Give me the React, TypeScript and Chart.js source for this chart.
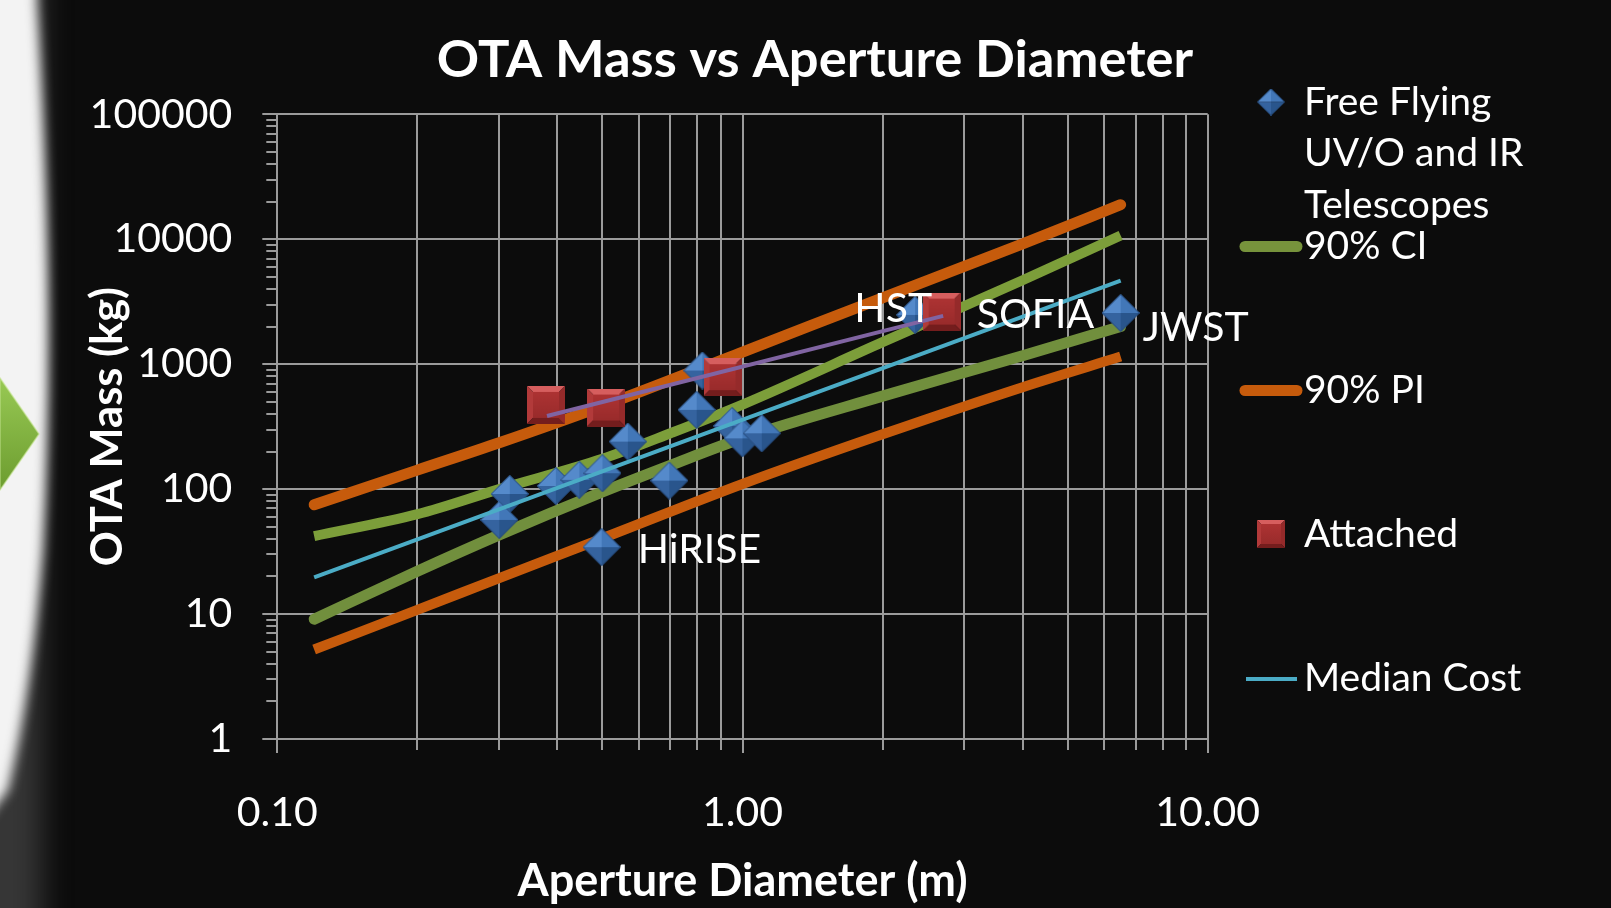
import React, { useEffect, useRef } from 'react';
import { Chart, registerables } from 'chart.js';

Chart.register(...registerables);

const FONT = 'Lato, "Open Sans", "DejaVu Sans", sans-serif';

const TITLE = 'OTA Mass vs Aperture Diameter';
const X_TITLE = 'Aperture Diameter (m)';
const Y_TITLE = 'OTA Mass (kg)';
const X_TICK_LABELS = ['0.10', '1.00', '10.00'];
const Y_TICK_LABELS = ['1', '10', '100', '1000', '10000', '100000'];
const X_TICKS = [0.1, 0.2, 0.3, 0.4, 0.5, 0.6, 0.7, 0.8, 0.9, 1, 2, 3, 4, 5, 6, 7, 8, 9, 10];
const Y_TICKS = [
  1, 2, 3, 4, 5, 6, 7, 8, 9,
  10, 20, 30, 40, 50, 60, 70, 80, 90,
  100, 200, 300, 400, 500, 600, 700, 800, 900,
  1000, 2000, 3000, 4000, 5000, 6000, 7000, 8000, 9000,
  10000, 20000, 30000, 40000, 50000, 60000, 70000, 80000, 90000,
  100000,
];

// Free flying UV/O and IR telescopes (aperture m, mass kg)
const FREE_X = [0.316, 0.3, 0.397, 0.446, 0.5, 0.567, 0.696, 0.498, 0.797, 0.82, 0.95, 1.0, 1.1, 2.35, 6.5];
const FREE_Y = [91.5, 56.7, 106, 118.6, 134, 240, 117, 34.3, 431, 890, 320, 255, 280, 2480, 2570];
const FREE_NAMES = ['', '', '', '', '', '', '', 'HiRISE', '', '', '', '', '', 'HST', 'JWST'];

// Attached telescopes
const ATT_X = [0.378, 0.509, 0.906, 2.68];
const ATT_Y = [472, 450, 787, 2636];
const ATT_NAMES = ['', '', '', 'SOFIA'];

// Attached trend line
const ATT_FIT_X = [0.38, 2.7];
const ATT_FIT_Y = [385, 2437];

// Median cost line
const MED_X = [0.12, 6.5];
const MED_Y = [19.7, 4670];

// 90% confidence interval
const CI_X = [0.12, 0.2, 0.3, 0.5, 0.7, 1, 2, 4, 6.5];
const CI_HI = [42, 63, 100, 175, 280, 475, 1500, 4700, 10700];
const CI_LO = [9.1, 22, 43, 95, 155, 255, 555, 1170, 2000];

// 90% prediction interval
const PI_X = [0.12, 0.2, 0.3, 0.5, 1, 2, 4, 6.5];
const PI_HI = [75, 142, 235, 462, 1250, 3400, 9190, 18900];
const PI_LO = [5.2, 10.8, 19.4, 40.4, 110, 275, 655, 1150];

const LEGEND_LABELS = [['Free Flying', 'UV/O and IR', 'Telescopes'], ['90% CI'], ['90% PI'], ['Attached'], ['Median Cost']];

const GRID = '#9b9b9b';
const ORANGE = '#c65b0c';
const GREEN_HI = '#7c9e3a';
const GREEN_LO = '#718f3d';
const CYAN = '#4bacc6';
const PURPLE = '#8064a2';

const pts = (xs: number[], ys: number[]) => xs.map((x, i) => ({ x, y: ys[i] }));
const isDecade = (v: number) => v > 0 && Math.abs(Math.log10(v) - Math.round(Math.log10(v))) < 1e-9;

function makeDiamond(w: number, h: number) {
  const c = document.createElement('canvas');
  c.width = w;
  c.height = h;
  const g = c.getContext('2d')!;
  const cx = w / 2;
  const cy = h / 2;
  const facets: [number, number, number, number, string][] = [
    [0, cy, cx, 0, '#558acb'],
    [cx, 0, w, cy, '#4277b8'],
    [w, cy, cx, h, '#29558c'],
    [cx, h, 0, cy, '#35639f'],
  ];
  for (const [ax, ay, bx, by, col] of facets) {
    g.beginPath();
    g.moveTo(cx, cy);
    g.lineTo(ax, ay);
    g.lineTo(bx, by);
    g.closePath();
    g.fillStyle = col;
    g.fill();
  }
  g.beginPath();
  g.moveTo(0.5, cy);
  g.lineTo(cx, 0.5);
  g.lineTo(w - 0.5, cy);
  g.lineTo(cx, h - 0.5);
  g.closePath();
  g.strokeStyle = '#264b7a';
  g.lineWidth = 1;
  g.stroke();
  return c;
}

function makeSquare(s: number) {
  const c = document.createElement('canvas');
  c.width = s;
  c.height = s;
  const g = c.getContext('2d')!;
  const b = Math.round(s * 0.16);
  const poly = (p: number[][], col: string) => {
    g.beginPath();
    g.moveTo(p[0][0], p[0][1]);
    for (let i = 1; i < p.length; i++) g.lineTo(p[i][0], p[i][1]);
    g.closePath();
    g.fillStyle = col;
    g.fill();
  };
  poly([[0, 0], [s, 0], [s - b, b], [b, b]], '#d65e5e');
  poly([[0, 0], [b, b], [b, s - b], [0, s]], '#b23a3a');
  poly([[s, 0], [s, s], [s - b, s - b], [s - b, b]], '#952a2a');
  poly([[0, s], [b, s - b], [s - b, s - b], [s, s]], '#741d1d');
  const gr = g.createLinearGradient(0, b, 0, s - b);
  gr.addColorStop(0, '#ad3333');
  gr.addColorStop(1, '#992b2b');
  g.fillStyle = gr;
  g.fillRect(b, b, s - 2 * b, s - 2 * b);
  return c;
}

export default function App() {
  const ref = useRef<HTMLCanvasElement>(null);

  useEffect(() => {
    const canvas = ref.current;
    if (!canvas) return;
    const diamond = makeDiamond(38, 38);
    const square = makeSquare(38);
    const legDiamond = makeDiamond(28, 27);
    const legSquare = makeSquare(28);

    const bgPlugin = {
      id: 'bgDeco',
      beforeDraw(chart: any) {
        const ctx = chart.ctx as CanvasRenderingContext2D;
        ctx.save();
        ctx.fillStyle = '#0c0c0c';
        ctx.fillRect(0, 0, chart.width, chart.height);
        // soft grey glow near the left edge
        ctx.filter = 'blur(14px)';
        ctx.fillStyle = '#363636';
        ctx.fillRect(-30, -30, 72, 980);
        // white slide edge
        ctx.filter = 'blur(6px)';
        ctx.fillStyle = '#f3f3f3';
        ctx.beginPath();
        ctx.moveTo(-30, -30);
        ctx.lineTo(38, -30);
        ctx.lineTo(37, 0);
        ctx.quadraticCurveTo(46, 150, 48, 280);
        ctx.quadraticCurveTo(50, 420, 43, 550);
        ctx.quadraticCurveTo(32, 690, 8, 790);
        ctx.lineTo(-30, 840);
        ctx.closePath();
        ctx.fill();
        ctx.filter = 'none';
        // green arrow
        const gr = ctx.createLinearGradient(0, 378, 0, 490);
        gr.addColorStop(0, '#98c954');
        gr.addColorStop(1, '#6c9c2f');
        ctx.fillStyle = gr;
        ctx.beginPath();
        ctx.moveTo(0, 378);
        ctx.lineTo(39, 434);
        ctx.lineTo(0, 490);
        ctx.closePath();
        ctx.fill();
        ctx.strokeStyle = 'rgba(200,230,150,0.6)';
        ctx.lineWidth = 1.5;
        ctx.stroke();
        ctx.restore();
      },
    };

    const ticksPlugin = {
      id: 'tickMarks',
      afterDraw(chart: any) {
        const ctx = chart.ctx as CanvasRenderingContext2D;
        const xs = chart.scales.x;
        const ys = chart.scales.y;
        const area = chart.chartArea;
        ctx.save();
        ctx.strokeStyle = GRID;
        ctx.lineWidth = 2;
        ctx.beginPath();
        for (const t of xs.ticks) {
          const px = Math.round(xs.getPixelForValue(t.value));
          const len = isDecade(t.value) ? 14 : 11;
          ctx.moveTo(px, area.bottom);
          ctx.lineTo(px, area.bottom + len);
        }
        for (const t of ys.ticks) {
          const py = Math.round(ys.getPixelForValue(t.value));
          const len = isDecade(t.value) ? 15 : 11;
          ctx.moveTo(area.left, py);
          ctx.lineTo(area.left - len, py);
        }
        ctx.stroke();
        ctx.restore();
      },
    };

    const textPlugin = {
      id: 'texts',
      afterDraw(chart: any) {
        const ctx = chart.ctx as CanvasRenderingContext2D;
        ctx.save();
        ctx.fillStyle = '#ffffff';
        ctx.textBaseline = 'middle';
        // title
        ctx.font = `bold 52.5px ${FONT}`;
        ctx.textAlign = 'center';
        ctx.fillText(TITLE, 815, 60);

        // point labels
        ctx.font = `41px ${FONT}`;
        const free = chart.getDatasetMeta(0).data;
        FREE_NAMES.forEach((name, i) => {
          if (!name) return;
          const p = free[i];
          if (name === 'HST') {
            ctx.textAlign = 'right';
            ctx.fillText(name, p.x + 17, p.y - 6);
          } else if (name === 'JWST') {
            ctx.textAlign = 'left';
            ctx.fillText(name, p.x + 22, p.y + 15);
          } else {
            ctx.textAlign = 'left';
            ctx.fillText(name, p.x + 36, p.y + 3);
          }
        });
        const att = chart.getDatasetMeta(5).data;
        ATT_NAMES.forEach((name, i) => {
          if (!name) return;
          const p = att[i];
          ctx.textAlign = 'left';
          ctx.fillText(name, p.x + 35, p.y + 3);
        });

        // legend
        const legendY = [102, 246, 390, 534, 678];
        ctx.font = `39px ${FONT}`;
        ctx.textAlign = 'left';
        LEGEND_LABELS.forEach((lines, i) => {
          const y = legendY[i];
          lines.forEach((ln, j) => ctx.fillText(ln, 1304, y + j * 51.5));
        });
        ctx.drawImage(legDiamond, 1271 - 14, 102 - 13.5);
        ctx.drawImage(legSquare, 1271 - 14, 534 - 14);
        ctx.lineCap = 'round';
        ctx.lineWidth = 11;
        ctx.strokeStyle = '#77933c';
        ctx.beginPath();
        ctx.moveTo(1245, 246.5);
        ctx.lineTo(1297, 246.5);
        ctx.stroke();
        ctx.strokeStyle = ORANGE;
        ctx.beginPath();
        ctx.moveTo(1245, 390.5);
        ctx.lineTo(1297, 390.5);
        ctx.stroke();
        ctx.lineCap = 'butt';
        ctx.lineWidth = 4;
        ctx.strokeStyle = CYAN;
        ctx.beginPath();
        ctx.moveTo(1246, 679);
        ctx.lineTo(1297, 679);
        ctx.stroke();
        ctx.restore();
      },
    };

    const lineDs = (label: string, data: any[], color: string, width: number, order: number, cap: CanvasLineCap, curved: boolean) => ({
      type: 'scatter' as const,
      label,
      data,
      showLine: true,
      borderColor: color,
      backgroundColor: color,
      borderWidth: width,
      borderCapStyle: cap,
      borderJoinStyle: 'round' as const,
      pointRadius: 0,
      pointHoverRadius: 0,
      cubicInterpolationMode: curved ? ('monotone' as const) : ('default' as const),
      order,
    });

    const chart = new Chart(canvas, {
      type: 'scatter',
      data: {
        datasets: [
          {
            label: 'Free Flying UV/O and IR Telescopes',
            data: pts(FREE_X, FREE_Y),
            pointStyle: diamond,
            pointRadius: 19,
            pointHoverRadius: 19,
            showLine: false,
            order: 5,
          } as any,
          lineDs('90% CI', pts(CI_X, CI_HI), GREEN_HI, 10, 8, 'butt', true),
          lineDs('90% CI', pts(CI_X, CI_LO), GREEN_LO, 11, 8, 'round', true),
          lineDs('90% PI', pts(PI_X, PI_HI), ORANGE, 11, 9, 'round', true),
          lineDs('90% PI', pts(PI_X, PI_LO), ORANGE, 10, 9, 'butt', true),
          {
            label: 'Attached',
            data: pts(ATT_X, ATT_Y),
            pointStyle: square,
            pointRadius: 19,
            pointHoverRadius: 19,
            showLine: false,
            order: 4,
          } as any,
          lineDs('Attached fit', pts(ATT_FIT_X, ATT_FIT_Y), PURPLE, 4, 1, 'butt', false),
          lineDs('Median Cost', pts(MED_X, MED_Y), CYAN, 4, 2, 'butt', false),
        ],
      },
      options: {
        animation: false,
        responsive: false,
        events: [],
        layout: { padding: { left: 0, top: 114.3, right: 403.3, bottom: 0 } },
        plugins: {
          legend: { display: false },
          tooltip: { enabled: false },
          title: { display: false },
        },
        scales: {
          x: {
            type: 'logarithmic',
            position: 'bottom',
            min: 0.1,
            max: 10,
            afterBuildTicks: (s: any) => {
              s.ticks = X_TICKS.map((v) => ({ value: v, major: false }));
            },
            afterFit: (s: any) => {
              s.height = 169;
            },
            grid: { color: GRID, lineWidth: 2, drawTicks: false },
            border: { display: true, color: GRID, width: 2 },
            ticks: {
              autoSkip: false,
              maxRotation: 0,
              minRotation: 0,
              padding: 49,
              color: '#ffffff',
              font: { family: FONT, size: 41 },
              callback: (v: any) => (isDecade(Number(v)) ? X_TICK_LABELS[Math.round(Math.log10(Number(v))) + 1] : ''),
            },
            title: {
              display: true,
              text: X_TITLE,
              color: '#ffffff',
              font: { family: FONT, size: 45, weight: 'bold' },
              padding: { top: 0, bottom: 0 },
            },
          },
          y: {
            type: 'logarithmic',
            position: 'left',
            min: 1,
            max: 100000,
            afterBuildTicks: (s: any) => {
              s.ticks = Y_TICKS.map((v) => ({ value: v, major: false }));
            },
            afterFit: (s: any) => {
              s.width = 277.3;
            },
            grid: {
              color: (c: any) => (c.tick && isDecade(c.tick.value) ? GRID : 'rgba(0,0,0,0)'),
              lineWidth: 2,
              drawTicks: false,
            },
            border: { display: true, color: GRID, width: 2 },
            ticks: {
              autoSkip: false,
              padding: 45,
              color: '#ffffff',
              font: { family: FONT, size: 41 },
              callback: (v: any) => (isDecade(Number(v)) ? Y_TICK_LABELS[Math.round(Math.log10(Number(v)))] : ''),
            },
            title: {
              display: true,
              text: Y_TITLE,
              color: '#ffffff',
              font: { family: FONT, size: 43.5, weight: 'bold' },
              padding: { top: 82, bottom: 0 },
            },
          },
        },
      } as any,
      plugins: [bgPlugin, ticksPlugin, textPlugin],
    });

    return () => chart.destroy();
  }, []);

  return (
    <div style={{ position: 'fixed', left: 0, top: 0, width: 1611, height: 908, background: '#0c0c0c' }}>
      <canvas ref={ref} width={1611} height={908} style={{ width: 1611, height: 908, display: 'block' }} />
    </div>
  );
}
